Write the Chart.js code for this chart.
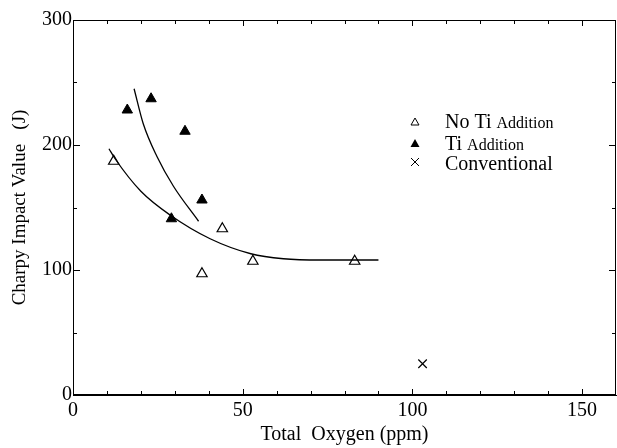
<!DOCTYPE html>
<html>
<head>
<meta charset="utf-8">
<script src="https://cdn.jsdelivr.net/npm/chart.js@4/dist/chart.umd.min.js"></script>
<style>
  html, body { margin: 0; padding: 0; background: #fff; }
  #wrap { width: 617px; height: 448px; }
</style>
</head>
<body>
<div id="wrap"><canvas id="chart" width="617" height="448"></canvas></div>
<script>
// data
const noTiX = [12, 38, 44, 53, 83];
const noTiY = [187, 97, 133, 107, 107];
const tiX = [16, 23, 29, 33, 38];
const tiY = [228, 237, 141, 211, 156];
const convX = [103];
const convY = [25];
// fitted curves (traced)
const tiFitX = [18, 20.7, 24.7, 29.6, 37];
const tiFitY = [245, 217, 191, 167, 139];
const noTiFitX = [10.6, 12.4, 20, 28.6, 40.4, 52.4, 62, 73, 90];
const noTiFitY = [197, 189, 163, 144, 125, 113, 109, 108, 108];
const xTicks = [0, 50, 100, 150];
const yTicks = [0, 100, 200, 300];

const FONT = "'Liberation Serif', 'Times New Roman', serif";

function pts(xs, ys) {
    return xs.map((x, i) => ({ x: x, y: ys[i] }));
}

// frame + inward tick marks on all four sides
const framePlugin = {
    id: 'frame',
    afterDraw(chart) {
        const ctx = chart.ctx;
        const a = chart.chartArea;
        const xs = chart.scales.x, ys = chart.scales.y;
        ctx.save();
        ctx.strokeStyle = '#000';
        ctx.lineWidth = 1;
        ctx.strokeRect(a.left + 0.5, a.top + 0.5, a.right - a.left - 1, a.bottom - a.top - 1);
        ctx.beginPath();
        for (let v = 10; v < 160; v += 10) {
            const len = v % 50 === 0 ? 6 : 4;
            const px = Math.round(xs.getPixelForValue(v)) + 0.5;
            ctx.moveTo(px, a.bottom); ctx.lineTo(px, a.bottom - len);
            ctx.moveTo(px, a.top); ctx.lineTo(px, a.top + len);
        }
        for (let v = 50; v < 300; v += 50) {
            const len = v % 100 === 0 ? 7 : 4;
            const py = Math.round(ys.getPixelForValue(v)) + 0.5;
            ctx.moveTo(a.left, py); ctx.lineTo(a.left + len, py);
            ctx.moveTo(a.right, py); ctx.lineTo(a.right - len, py);
        }
        ctx.stroke();
        ctx.restore();
    }
};

// legend with mixed font sizes, drawn by hand
const legendPlugin = {
    id: 'sideLegend',
    afterDraw(chart) {
        const ctx = chart.ctx;
        ctx.save();
        ctx.fillStyle = '#000';
        ctx.strokeStyle = '#000';
        ctx.lineWidth = 1;
        const mx = 415;
        // open triangle
        ctx.beginPath();
        ctx.moveTo(mx, 118); ctx.lineTo(mx + 4, 125); ctx.lineTo(mx - 4, 125); ctx.closePath();
        ctx.stroke();
        // filled triangle
        ctx.beginPath();
        ctx.moveTo(mx, 139); ctx.lineTo(mx + 4.5, 147); ctx.lineTo(mx - 4.5, 147); ctx.closePath();
        ctx.fill();
        // cross
        ctx.beginPath();
        ctx.moveTo(mx - 4, 158); ctx.lineTo(mx + 4, 166);
        ctx.moveTo(mx + 4, 158); ctx.lineTo(mx - 4, 166);
        ctx.stroke();

        ctx.textBaseline = 'alphabetic';
        ctx.textAlign = 'left';
        ctx.font = '20px ' + FONT;
        ctx.fillText('No Ti', 445, 128);
        let w = ctx.measureText('No Ti ').width;
        ctx.font = '16px ' + FONT;
        ctx.fillText('Addition', 445 + w, 128);
        ctx.font = '20px ' + FONT;
        ctx.fillText('Ti', 445, 150);
        w = ctx.measureText('Ti ').width;
        ctx.font = '16px ' + FONT;
        ctx.fillText('Addition', 445 + w, 150);
        ctx.font = '20px ' + FONT;
        ctx.fillText('Conventional', 445, 170);
        ctx.restore();
    }
};

function initializeChart() {
    const ctx = document.getElementById('chart').getContext('2d');
    new Chart(ctx, {
        type: 'scatter',
        data: {
            datasets: [
                {
                    label: 'Ti fit',
                    data: pts(tiFitX, tiFitY),
                    showLine: true,
                    borderColor: '#000',
                    borderWidth: 1.3,
                    pointRadius: 0,
                    cubicInterpolationMode: 'monotone'
                },
                {
                    label: 'No Ti fit',
                    data: pts(noTiFitX, noTiFitY),
                    showLine: true,
                    borderColor: '#000',
                    borderWidth: 1.3,
                    pointRadius: 0,
                    cubicInterpolationMode: 'monotone'
                },
                {
                    label: 'No Ti Addition',
                    data: pts(noTiX, noTiY),
                    pointStyle: 'triangle',
                    pointRadius: 6,
                    backgroundColor: '#fff',
                    borderColor: '#000',
                    borderWidth: 1.2
                },
                {
                    label: 'Ti Addition',
                    data: pts(tiX, tiY),
                    pointStyle: 'triangle',
                    pointRadius: 6,
                    backgroundColor: '#000',
                    borderColor: '#000',
                    borderWidth: 1
                },
                {
                    label: 'Conventional',
                    data: pts(convX, convY),
                    pointStyle: 'crossRot',
                    pointRadius: 6,
                    borderColor: '#000',
                    borderWidth: 1.2
                }
            ]
        },
        options: {
            responsive: false,
            animation: false,
            layout: { autoPadding: false, padding: { top: 20, right: 1, left: 0, bottom: 0 } },
            plugins: {
                legend: { display: false },
                tooltip: { enabled: false }
            },
            scales: {
                x: {
                    type: 'linear',
                    min: 0,
                    max: 160,
                    afterFit(scale) {
                        scale.height = 53;
                        scale.paddingLeft = 0;
                        scale.paddingRight = 0;
                    },
                    afterBuildTicks(scale) { scale.ticks = xTicks.map(v => ({ value: v })); },
                    grid: { display: false, drawTicks: false },
                    border: { display: true, color: '#000', width: 1 },
                    ticks: { color: '#000', padding: 4, font: { family: FONT, size: 20 }, maxRotation: 0 },
                    title: {
                        display: true,
                        text: 'Total  Oxygen (ppm)',
                        color: '#000',
                        font: { family: FONT, size: 20 },
                        padding: { top: 0, bottom: 1 }
                    }
                },
                y: {
                    type: 'linear',
                    min: 0,
                    max: 300,
                    afterFit(scale) {
                        scale.width = 73;
                        scale.paddingTop = 0;
                        scale.paddingBottom = 0;
                    },
                    afterBuildTicks(scale) { scale.ticks = yTicks.map(v => ({ value: v })); },
                    grid: { display: false, drawTicks: false },
                    border: { display: true, color: '#000', width: 1 },
                    ticks: { color: '#000', padding: 1, font: { family: FONT, size: 20 } },
                    title: {
                        display: true,
                        text: 'Charpy Impact Value   (J)',
                        color: '#000',
                        font: { family: FONT, size: 19 },
                        padding: { top: 9, bottom: 0 }
                    }
                }
            }
        },
        plugins: [framePlugin, legendPlugin]
    });
}

document.addEventListener('DOMContentLoaded', () => {
    initializeChart();
});
</script>
</body>
</html>
